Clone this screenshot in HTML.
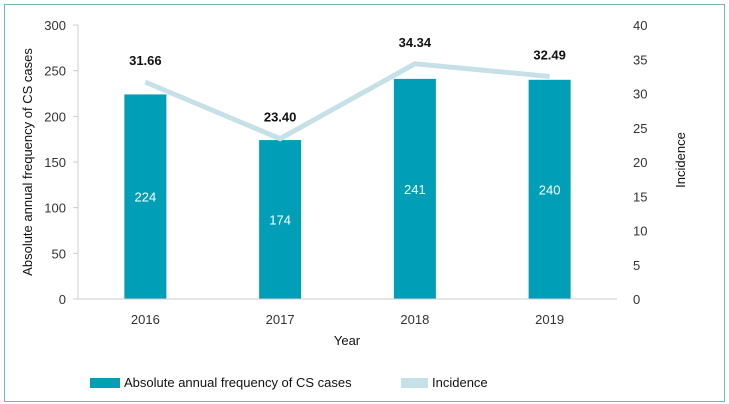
<!DOCTYPE html>
<html><head><meta charset="utf-8"><style>
body{margin:0;background:#fff;}
svg{display:block;font-family:"Liberation Sans",sans-serif;}
</style></head><body>
<svg width="729" height="404">
<rect x="4.5" y="4.5" width="720" height="397" fill="#fff" stroke="#6fb7b9" stroke-width="1"/>
<g id="g"></g>
</svg>
<script>
const categories=["2016","2017","2018","2019"];
const cases=[224,174,241,240];
const incidence=[31.66,23.40,34.34,32.49];
const leftTicks=[0,50,100,150,200,250,300];
const rightTicks=[0,5,10,15,20,25,30,35,40];
const NS="http://www.w3.org/2000/svg";
const g=document.getElementById('g');
const x0=78,x1=617,yb=299,yt=25;
const yL=v=>yb-(v/300)*(yb-yt);
const yR=v=>yb-(v/40)*(yb-yt);
const xc=i=>x0+(i+0.5)*(x1-x0)/categories.length;
function mk(t,a,txt){const e=document.createElementNS(NS,t);for(const k in a)e.setAttribute(k,a[k]);if(txt!==undefined)e.textContent=txt;g.appendChild(e);return e;}
let e;
e=mk('line',{x1:x0,y1:yt,x2:x0,y2:yb,stroke:'#ccc'});


leftTicks.forEach(v=>{
 e=mk('line',{x1:x0-5,y1:yL(v),x2:x0,y2:yL(v),stroke:'#ccc'});
 
 
 e=mk('text',{x:66,y:yL(v)+5,'text-anchor':'end','font-size':13,fill:'#333'},v);
 
 
});
rightTicks.forEach(v=>{
 e=mk('text',{x:633,y:yR(v)+5,'font-size':13,fill:'#333'},v);
 
 
});
categories.forEach((c,i)=>{
 e=mk('rect',{x:xc(i)-21,y:yL(cases[i]),width:42,height:yb-yL(cases[i]),fill:'#009fb7'});
 
 
 e=mk('text',{x:xc(i),y:(yL(cases[i])+yb)/2+5,'text-anchor':'middle','font-size':13,fill:'#fff'},cases[i]);
 
 
 e=mk('text',{x:xc(i),y:yb+25,'text-anchor':'middle','font-size':13,fill:'#333'},c);
 
 
});
e=mk('line',{x1:x0,y1:yb,x2:x1,y2:yb,stroke:'#ccc'});


e=mk('polyline',{points:incidence.map((v,i)=>xc(i)+','+yR(v)).join(' '),fill:'none',stroke:'#c6e0e7','stroke-width':5});


incidence.forEach((v,i)=>{
 e=mk('text',{x:xc(i),y:yR(v)-17,'text-anchor':'middle','font-size':13,'font-weight':'bold',fill:'#111'},v.toFixed(2));
 
 
});
e=mk('text',{x:32,y:162,'text-anchor':'middle','font-size':13,fill:'#111',transform:'rotate(-90 32 162)'},'Absolute annual frequency of CS cases');


e=mk('text',{x:685,y:160,'text-anchor':'middle','font-size':13,fill:'#111',transform:'rotate(-90 685 160)'},'Incidence');


e=mk('text',{x:347,y:345,'text-anchor':'middle','font-size':13,fill:'#111'},'Year');


e=mk('rect',{x:90,y:378,width:30,height:10,fill:'#009fb7'});


e=mk('text',{x:124,y:387,'font-size':13,fill:'#111'},'Absolute annual frequency of CS cases');


e=mk('rect',{x:401,y:378,width:27,height:10,fill:'#c6e0e7'});


e=mk('text',{x:432,y:387,'font-size':13,fill:'#111'},'Incidence');


</script>
</body></html>
